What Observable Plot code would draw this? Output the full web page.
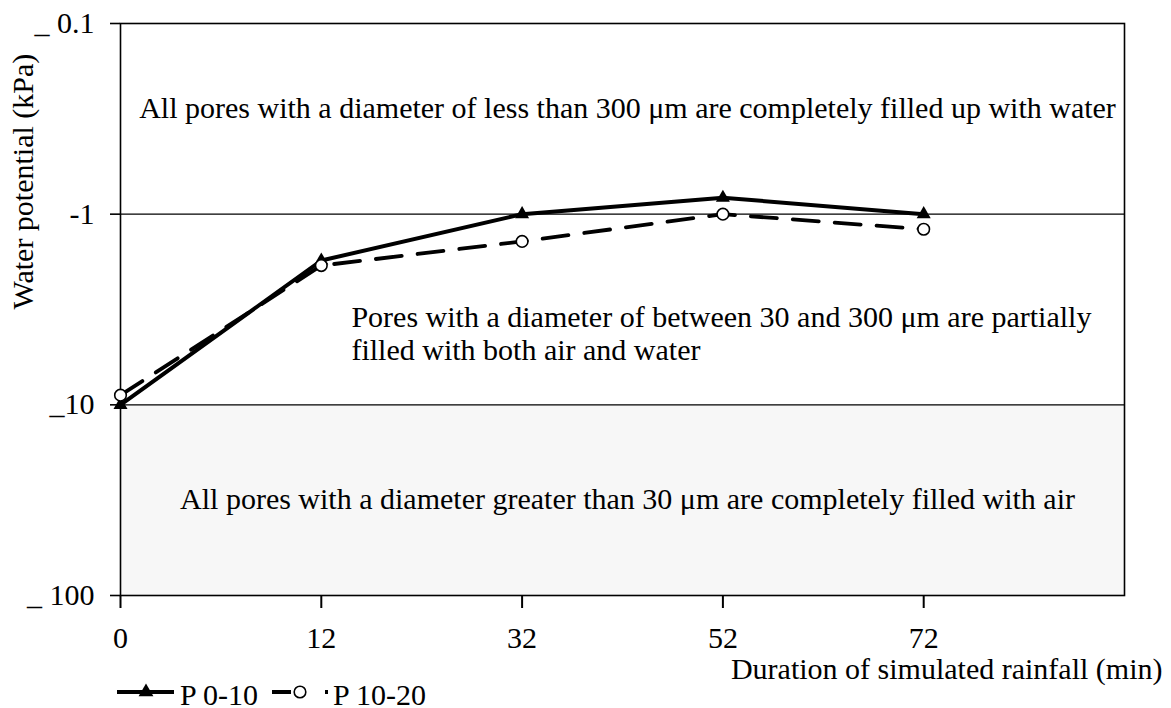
<!DOCTYPE html>
<html>
<head>
<meta charset="utf-8">
<style>
  body { margin: 0; background: #fff; }
</style>
<script src="https://cdn.jsdelivr.net/npm/d3@7"></script>
<script src="https://cdn.jsdelivr.net/npm/@observablehq/plot@0.6"></script>
</head>
<body>
<div id="wrap" style="position:relative;width:1171px;height:708px">
  <div id="chart"></div>
  <svg id="legend" width="460" height="48" style="position:absolute;left:0;top:660px"></svg>
</div>
<script>
// ---- data ----
const xLabels = ["0", "12", "32", "52", "72"];          // duration of simulated rainfall (min)
const seriesNames = ["P 0-10", "P 10-20"];
const p0_10  = [10, 1.75, 1.0, 0.82, 1.0];              // |water potential| (kPa)
const p10_20 = [8.9, 1.86, 1.39, 1.0, 1.20];
const yTicks = [0.1, 1, 10, 100];
const yTickLabels = ["_ 0.1", "-1", "_10", "_ 100"];
const gridValues = [1, 10];
const airZone = [10, 100];
const centeredNotes = [
  "All pores with a diameter of less than 300 \u03bcm are completely filled up with water",
  "All pores with a diameter greater than 30 \u03bcm are completely filled with air"
];
const centeredNoteX = 2.525;
const centeredNoteY = [0.278, 31.2];
const leftNote = "Pores with a diameter of between 30 and 300 \u03bcm are partially\nfilled with both air and water";
const leftNoteX = 1.15;
const leftNoteY = 4.21;

// ---- build ----
const rows1 = p0_10.map((v, i) => ({i, v}));
const rows2 = p10_20.map((v, i) => ({i, v}));
const cNotes = centeredNotes.map((t, k) => ({t, x: centeredNoteX, y: centeredNoteY[k]}));
const fam = "Liberation Serif, serif";
const fs = 30;

const chart = Plot.plot({
  width: 1171,
  height: 708,
  marginLeft: 120,
  marginRight: 47,
  marginTop: 23,
  marginBottom: 113,
  style: {fontFamily: fam, fontSize: fs + "px"},
  x: {type: "linear", domain: [0, 5]},
  y: {type: "log", domain: [0.1, 100], reverse: true},
  marks: [
    Plot.rect([airZone], {x1: 0, x2: 5, y1: d => d[0], y2: d => d[1], fill: "#f7f7f7"}),
    Plot.ruleY(gridValues, {stroke: "#000", strokeWidth: 1.2}),
    Plot.frame({stroke: "#000", strokeWidth: 1.6}),
    Plot.axisX({ticks: [0, 1, 2, 3, 4], tickFormat: i => xLabels[i], tickSize: 13, tickPadding: 18,
      fontSize: fs, fontFamily: fam, strokeWidth: 2, label: null}),
    Plot.axisY({ticks: yTicks, tickFormat: d => yTickLabels[yTicks.indexOf(d)], tickSize: 10, tickPadding: 16,
      fontSize: fs, fontFamily: fam, strokeWidth: 1.6, label: null}),
    Plot.text(cNotes, {x: "x", y: "y", text: "t", textAnchor: "middle", fontSize: fs, fontFamily: fam, fill: "#000"}),
    Plot.text([leftNote], {x: leftNoteX, y: leftNoteY, textAnchor: "start", fontSize: fs, fontFamily: fam, lineHeight: 1.11, fill: "#000"}),
    Plot.line(rows1, {x: "i", y: "v", stroke: "#000", strokeWidth: 4}),
    Plot.dot(rows1, {x: "i", y: "v", symbol: "triangle", r: 5.2, fill: "#000", stroke: "none"}),
    Plot.line(rows2, {x: "i", y: "v", stroke: "#000", strokeWidth: 3.8, strokeDasharray: "26,16"}),
    Plot.dot(rows2, {x: "i", y: "v", symbol: "circle", r: 5.8, fill: "#fff", stroke: "#000", strokeWidth: 1.6}),
    Plot.text(["Duration of simulated rainfall (min)"], {frameAnchor: "bottom-right", dx: 38, dy: 83,
      textAnchor: "end", fontSize: fs, fontFamily: fam, fill: "#000"}),
    Plot.text(["Water potential (kPa)"], {frameAnchor: "left", dx: -97, rotate: -90, fontSize: fs, fontFamily: fam, fill: "#000"})
  ]
});
document.getElementById("chart").appendChild(chart);

// ---- legend ----
const lg = d3.select("#legend");
const cy = 32;
lg.append("line").attr("x1", 117).attr("x2", 174).attr("y1", cy).attr("y2", cy)
  .attr("stroke", "#000").attr("stroke-width", 4);
lg.append("path").attr("d", d3.symbol(d3.symbolTriangle, 95)()).attr("transform", `translate(146,${cy})`).attr("fill", "#000");
lg.append("text").attr("x", 180).attr("y", 45).attr("font-family", fam).attr("font-size", fs).text(seriesNames[0]);
lg.append("line").attr("x1", 272).attr("x2", 328).attr("y1", cy).attr("y2", cy)
  .attr("stroke", "#000").attr("stroke-width", 3.8).attr("stroke-dasharray", "19,34,3,10");
lg.append("circle").attr("cx", 300).attr("cy", cy).attr("r", 5.8).attr("fill", "#fff").attr("stroke", "#000").attr("stroke-width", 1.6);
lg.append("text").attr("x", 333).attr("y", 45).attr("font-family", fam).attr("font-size", fs).text(seriesNames[1]);
</script>
</body>
</html>
